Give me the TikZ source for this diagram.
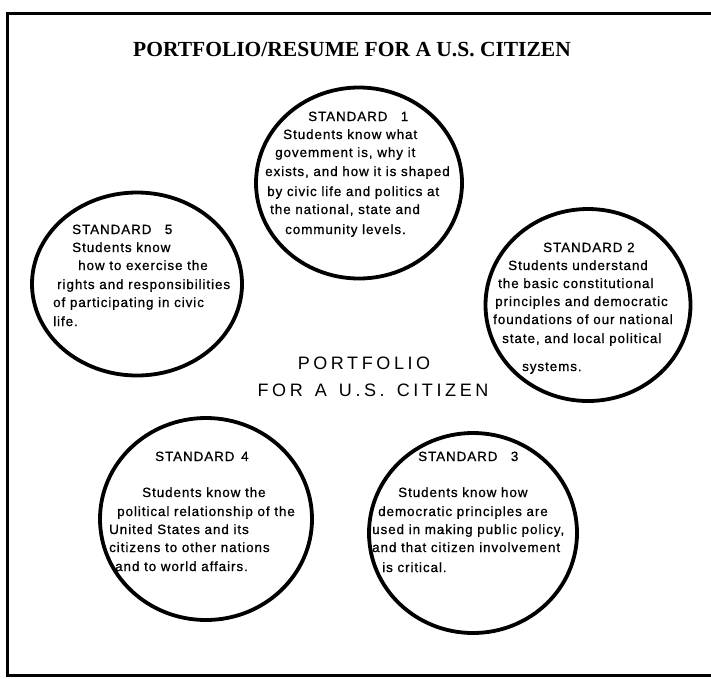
\documentclass[tikz,border=0pt]{standalone}
\usepackage{fontspec}
\setmainfont{Liberation Serif}
\newfontfamily\bodyfont[LetterSpace=7,FakeBold=0.8]{Liberation Sans}
\newfontfamily\bigfont[LetterSpace=20,WordSpace=1.4]{Liberation Sans}
\usetikzlibrary{shapes.geometric}
\tikzset{
  circ/.style={draw, ellipse, line width=3.8pt, inner sep=0pt},
  body/.style={font=\bodyfont\fontsize{13.4}{15}\selectfont, inner sep=0pt, anchor=base west},
  big/.style={font=\bigfont\fontsize{18}{20}\selectfont, inner sep=0pt, anchor=base},
  titlestyle/.style={font=\bfseries\fontsize{21.5}{23}\selectfont, inner sep=0pt, anchor=base}
}
\begin{document}
\begin{tikzpicture}[x=1pt,y=-1pt]
\useasboundingbox (0,0) rectangle (711,678);
\fill[white] (0,0) rectangle (711,678);
\draw[line width=3pt] (715,13) -- (7,13) -- (7,675) -- (715,675);
\node[titlestyle] (title) at (352,56) {PORTFOLIO/RESUME FOR A U.S. CITIZEN};

\node[circ, minimum width=206pt, minimum height=191pt] (c1) at (359,183) {};
\node[circ, minimum width=210pt, minimum height=183pt] (c5) at (137,284) {};
\node[circ, minimum width=205pt, minimum height=192pt] (c2) at (588,305) {};
\node[circ, minimum width=212pt, minimum height=202pt] (c4) at (206,519) {};
\node[circ, minimum width=208pt, minimum height=200pt] (c3) at (473,533) {};

\foreach \x/\y/\t [count=\i] in {
  308/117/{STANDARD\quad 1},
  283/135/{Students know what},
  275/153/{govemment is, why it},
  265/172/{exists, and how it is shaped},
  267/192/{by civic life and politics at},
  270/210/{the national, state and},
  285/230/{community levels.}}
  \node[body] (s1-\i) at (\x,\y+4) {\t};

\foreach \x/\y/\t [count=\i] in {
  72/230/{STANDARD\quad 5},
  72/248/{Students know},
  78/266/{how to exercise the},
  57/285/{rights and responsibilities},
  53/303/{of participating in civic},
  53/322/{life.}}
  \node[body] (s5-\i) at (\x,\y+4) {\t};

\foreach \x/\y/\t [count=\i] in {
  543/248/{STANDARD 2},
  508/266/{Students understand},
  498/284/{the basic constitutional},
  495/302/{principles and democratic},
  493/320/{foundations of our national},
  502/339/{state, and local political},
  522/367/{systems.}}
  \node[body] (s2-\i) at (\x,\y+4) {\t};

\foreach \x/\y/\t [count=\i] in {
  155/457/{STANDARD\enspace 4},
  142/493/{Students know the},
  117/512/{political relationship of the},
  109/530/{United States and its},
  109/548/{citizens to other nations},
  115/567/{and to world affairs.}}
  \node[body] (s4-\i) at (\x,\y+4) {\t};

\foreach \x/\y/\t [count=\i] in {
  418/457/{STANDARD\quad 3},
  398/493/{Students know how},
  378/512/{democratic principles are},
  372/530/{used in making public policy,},
  372/548/{and that citizen involvement},
  382/568/{is critical.}}
  \node[body] (s3-\i) at (\x,\y+4) {\t};

\node[big] (p1) at (364,369) {PORTFOLIO};
\node[big] (p2) at (373,396) {FOR A U.S. CITIZEN};
\end{tikzpicture}
\end{document}
